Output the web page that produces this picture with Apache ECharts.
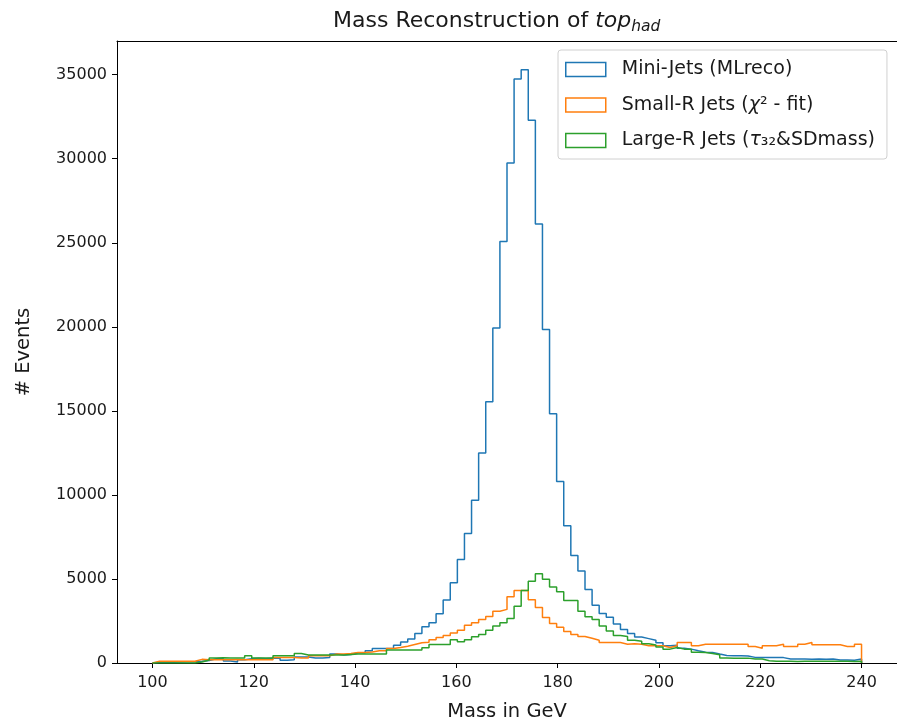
<!DOCTYPE html>
<html>
<head>
<meta charset="utf-8">
<script src="https://cdn.jsdelivr.net/npm/echarts@6/dist/echarts.min.js"></script>
<style>
html,body{margin:0;padding:0;background:#fff;overflow:hidden;}
#chart{width:897px;height:727px;}
</style>
</head>
<body>
<div id="chart"></div>
<script>
// Histogram binning: 100 bins from 100 to 240 GeV
const binStart = 100;
const binWidth = 1.4;
const xTicks = [100, 120, 140, 160, 180, 200, 220, 240];
const yTicks = [0, 5000, 10000, 15000, 20000, 25000, 30000, 35000];

const seriesNames = ['Mini-Jets (MLreco)', 'Small-R Jets (χ² - fit)', 'Large-R Jets (τ₃₂&SDmass)'];

const miniJets = [40,50,50,60,70,80,100,150,250,250, 120,60,200,250,280,250,280,300,170,200,
  350,350,300,300,334,530,480,500,607,607, 726,864,864,880,1050,1250,1430,1750,2150,2400,
  2930,3750,4770,6150,7700,9680,12490,15540,19930,25080, 29740,34750,35300,32290,26120,19840,14830,10800,8170,6400,
  5470,4380,3430,2940,2720,2320,2000,1760,1550,1450, 1350,1200,1020,1050,880,825,727,640,620,530,
  450,432,432,420,334,334,320,334,320,240, 236,236,230,236,230,236,180,180,170,236];

const smallRJets = [100,100,100,100,100,100,216,200,190,200, 200,210,200,200,210,200,200,334,334,334,
  300,300,432,432,432,530,530,560,628,628, 650,726,726,864,923,1000,1100,1200,1240,1385,
  1510,1640,1780,1944,2250,2400,2593,2760,3080,3190, 3940,4310,4310,3760,3300,2700,2350,2130,1880,1700,
  1580,1473,1355,1220,1218,1218,1120,1150,1120,1030, 1021,1021,923,1021,1218,1218,1021,1120,1120,1120,
  1120,1120,1120,1120,978,880,1021,1021,1120,978, 978,1120,1218,1080,1080,1080,1080,978,978,1120];

const largeRJets = [0,0,0,0,0,0,60,178,300,310, 300,295,300,432,300,295,300,432,432,432,
  570,480,480,471,471,471,471,500,530,530, 530,530,530,766,766,766,766,766,900,1100,
  1100,1100,1385,1260,1385,1560,1700,1950,2200,2400, 2650,3376,4310,4870,5310,4980,4520,4240,3712,3712,
  3080,2750,2593,2200,1900,1630,1580,1360,1300,1150, 1070,950,825,923,825,825,640,620,570,490,
  300,290,290,290,236,236,137,100,100,100, 90,100,100,100,100,100,100,100,90,100];

const colors = ['#1f77b4', '#ff7f0e', '#2ca02c'];
const FONT = 'DejaVu Sans';
const TXT = '#1a1a1a';

function stepPoints(values) {
  const pts = [[binStart, 0]];
  for (let k = 0; k < values.length; k++) {
    pts.push([+(binStart + k * binWidth).toFixed(4), values[k]]);
  }
  const lastEdge = +(binStart + values.length * binWidth).toFixed(4);
  pts.push([lastEdge, values[values.length - 1]]);
  pts.push([lastEdge, 0]);
  return pts;
}

const allValues = [miniJets, smallRJets, largeRJets];

const chart = echarts.init(document.getElementById('chart'), null, {renderer: 'canvas'});
const option = {
  animation: false,
  backgroundColor: '#fff',
  title: {
    text: '{a|Mass Reconstruction of }{b|top}{c|had}',
    left: 333,
    top: 7,
    padding: 0,
    textStyle: {
      fontWeight: 'normal',
      rich: {
        a: {fontFamily: FONT, fontSize: 22, fontWeight: 'normal', color: TXT, lineHeight: 28, verticalAlign: 'middle'},
        b: {fontFamily: FONT, fontSize: 22, fontWeight: 'normal', color: TXT, fontStyle: 'italic', lineHeight: 28, verticalAlign: 'middle'},
        c: {fontFamily: FONT, fontSize: 15.5, fontWeight: 'normal', color: TXT, fontStyle: 'italic', lineHeight: 16, verticalAlign: 'bottom', padding: [9, 0, 0, 0]}
      }
    }
  },
  legend: {
    orient: 'vertical',
    left: 558,
    top: 50,
    padding: [10, 12, 9, 7],
    itemGap: 16.5,
    itemWidth: 40,
    itemHeight: 14,
    backgroundColor: '#fff',
    borderColor: '#d0d0d0',
    borderWidth: 1,
    borderRadius: 3,
    data: seriesNames.map((n, i) => ({
      name: n,
      icon: 'rect',
      itemStyle: {color: 'rgba(255,255,255,0)', borderColor: colors[i], borderWidth: 1.5}
    })),
    formatter: function (name) {
      return name.replace('χ', '{it|χ}').replace('τ', '{it|τ}');
    },
    textStyle: {
      fontFamily: FONT, fontSize: 19, color: TXT, padding: [0, 0, 0, 11],
      rich: {it: {fontFamily: FONT, fontSize: 19, color: TXT, fontStyle: 'italic'}}
    }
  },
  grid: {
    left: 117, top: 41, width: 783, height: 628
  },
  xAxis: [{
    type: 'value',
    min: 93, max: 247,
    name: 'Mass in GeV',
    nameLocation: 'middle',
    nameGap: 39,
    nameTextStyle: {fontFamily: FONT, fontSize: 19.5, color: TXT},
    splitLine: {show: false},
    axisLine: {show: true, onZero: false, lineStyle: {color: '#000', width: 1}},
    axisTick: {show: true, length: 5, lineStyle: {color: '#000'}, customValues: xTicks},
    axisLabel: {fontFamily: FONT, fontSize: 16, color: TXT, margin: 12, customValues: xTicks,
      formatter: v => String(v)}
  }, {
    type: 'value',
    position: 'top',
    min: 93, max: 247,
    splitLine: {show: false},
    axisLine: {show: true, onZero: false, lineStyle: {color: '#000', width: 1}},
    axisTick: {show: false},
    axisLabel: {show: false}
  }],
  yAxis: {
    type: 'value',
    min: 0, max: 37004,
    name: '# Events',
    nameLocation: 'middle',
    nameGap: 83,
    nameTextStyle: {fontFamily: FONT, fontSize: 19.5, color: TXT},
    splitLine: {show: false},
    axisLine: {show: true, lineStyle: {color: '#000', width: 1}},
    axisTick: {show: true, length: 5, lineStyle: {color: '#000'}, customValues: yTicks},
    axisLabel: {fontFamily: FONT, fontSize: 16, color: TXT, margin: 10, customValues: yTicks,
      formatter: v => String(v)}
  },
  series: seriesNames.map((n, i) => ({
    name: n,
    type: 'line',
    xAxisIndex: 0,
    step: 'end',
    symbol: 'none',
    showSymbol: false,
    lineStyle: {color: colors[i], width: 1.5},
    itemStyle: {color: colors[i]},
    data: stepPoints(allValues[i]),
    z: 2 + i
  }))
};
chart.setOption(option);
</script>
</body>
</html>
